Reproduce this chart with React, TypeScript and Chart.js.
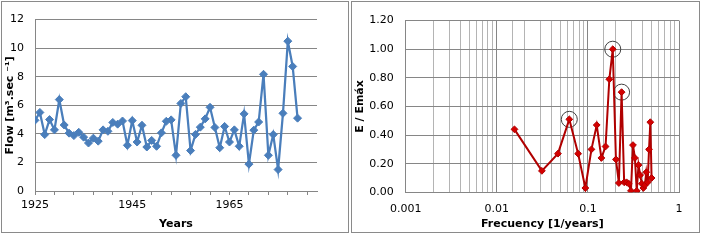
import React, { useEffect, useRef } from 'react';
import { Chart, registerables } from 'chart.js';

Chart.register(...registerables);

const years = [
  1925, 1926, 1927, 1928, 1929, 1930, 1931, 1932, 1933, 1934,
  1935, 1936, 1937, 1938, 1939, 1940, 1941, 1942, 1943, 1944,
  1945, 1946, 1947, 1948, 1949, 1950, 1951, 1952, 1953, 1954,
  1955, 1956, 1957, 1958, 1959, 1960, 1961, 1962, 1963, 1964,
  1965, 1966, 1967, 1968, 1969, 1970, 1971, 1972, 1973, 1974,
  1975, 1976, 1977, 1978, 1979,
];
const flow = [
  4.95, 5.5, 3.95, 5.0, 4.28, 6.4, 4.62, 4.05, 3.88, 4.11,
  3.77, 3.36, 3.7, 3.49, 4.28, 4.18, 4.8, 4.68, 4.9, 3.2,
  4.93, 3.43, 4.6, 3.08, 3.54, 3.13, 4.07, 4.88, 4.98, 2.5,
  6.13, 6.6, 2.83, 3.96, 4.47, 5.05, 5.86, 4.45, 3.03, 4.52,
  3.43, 4.28, 3.13, 5.4, 1.88, 4.26, 4.83, 8.17, 2.5, 3.95,
  1.5, 5.44, 10.49, 8.72, 5.1,
];
const yearTicks = [1925, 1929, 1933, 1937, 1941, 1945, 1949, 1953, 1957, 1961, 1965, 1969, 1973, 1977, 1981];
const yearLabels = [1925, 1945, 1965];

const freq = [
  0.015625, 0.03125, 0.046875, 0.0625, 0.078125, 0.09375, 0.109375, 0.125,
  0.140625, 0.15625, 0.171875, 0.1875, 0.203125, 0.21875, 0.234375, 0.25,
  0.265625, 0.28125, 0.296875, 0.3125, 0.328125, 0.34375, 0.359375, 0.375,
  0.390625, 0.40625, 0.421875, 0.4375, 0.453125, 0.46875, 0.484375, 0.5,
];
const energy = [
  0.44, 0.15, 0.27, 0.51, 0.27, 0.03, 0.30, 0.47,
  0.24, 0.32, 0.79, 1.0, 0.23, 0.065, 0.70, 0.07,
  0.07, 0.06, 0.01, 0.33, 0.24, 0.01, 0.19, 0.12,
  0.06, 0.03, 0.05, 0.14, 0.07, 0.30, 0.49, 0.10,
];
const peakIdx = [3, 11, 14];
const freqLabels = ['0.001', '0.01', '0.1', '1'];

const FONT = "'DejaVu Sans', Verdana, sans-serif";
const GRID = '#868686';
const MINOR = '#B4B4B4';

const tickFont = { size: 11, family: FONT };
const titleFont = { size: 11, family: FONT, weight: 'bold' as const };

function flowConfig(): any {
  return {
    type: 'line',
    data: {
      datasets: [
        {
          data: years.map((y, i) => ({ x: y, y: flow[i] })),
          borderColor: '#4A7EBB',
          backgroundColor: '#4A7EBB',
          borderWidth: 2.25,
          pointStyle: 'rectRot',
          pointRadius: 4,
          pointBorderWidth: 1,
          tension: 0,
        },
      ],
    },
    options: {
      responsive: false,
      animation: false,
      events: [],
      layout: { padding: { left: 0, top: 16, right: 31, bottom: 0 } },
      plugins: { legend: { display: false }, tooltip: { enabled: false } },
      scales: {
        x: {
          type: 'linear',
          min: 1925,
          max: 1983,
          afterBuildTicks: (s: any) => {
            s.ticks = yearTicks.map((v) => ({ value: v }));
          },
          afterFit: (s: any) => {
            s.height = 41;
          },
          ticks: {
            autoSkip: false,
            maxRotation: 0,
            padding: 4,
            color: '#000',
            font: tickFont,
            callback: (v: any) => (yearLabels.includes(Number(v)) ? String(v) : ''),
          },
          grid: { drawOnChartArea: false, drawTicks: true, tickLength: 4, color: GRID },
          border: { color: GRID, width: 1 },
          title: { display: true, text: 'Years', color: '#000', font: titleFont, padding: { top: 0, bottom: 1.4 } },
        },
        y: {
          min: 0,
          max: 12,
          afterFit: (s: any) => {
            s.width = 33;
          },
          ticks: { stepSize: 2, padding: 11, color: '#000', font: tickFont },
          grid: { color: GRID, drawTicks: false },
          border: { color: GRID, width: 1 },
          title: { display: true, text: 'Flow [m³.sec ⁻¹]', color: '#000', font: titleFont, padding: { top: 1.6, bottom: 0 } },
        },
      },
    },
  };
}

function isMajor(v: number) {
  const l = Math.log10(v);
  return Math.abs(l - Math.round(l)) < 1e-6;
}

function spectrumConfig(): any {
  return {
    type: 'line',
    data: {
      datasets: [
        {
          data: freq.map((f, i) => ({ x: f, y: energy[i] })),
          borderColor: '#B00000',
          backgroundColor: '#D40000',
          pointBorderColor: '#B00000',
          borderWidth: 2,
          pointStyle: 'rectRot',
          pointRadius: 3.4,
          pointBorderWidth: 1,
          tension: 0,
        },
        {
          data: peakIdx.map((i) => ({ x: freq[i], y: energy[i] })),
          showLine: false,
          pointStyle: 'circle',
          pointRadius: 8,
          pointBorderWidth: 1,
          pointBorderColor: '#404040',
          pointBackgroundColor: 'rgba(0,0,0,0)',
          borderColor: '#404040',
          backgroundColor: 'rgba(0,0,0,0)',
        },
      ],
    },
    options: {
      responsive: false,
      animation: false,
      events: [],
      layout: { padding: { left: 0, top: 16.3, right: 20, bottom: 0 } },
      plugins: { legend: { display: false }, tooltip: { enabled: false } },
      scales: {
        x: {
          type: 'logarithmic',
          min: 0.001,
          max: 1,
          afterFit: (s: any) => {
            s.height = 39.7;
          },
          ticks: {
            autoSkip: false,
            maxRotation: 0,
            padding: 10,
            color: '#000',
            font: tickFont,
            callback: (v: any) => {
              const n = Number(v);
              if (!isMajor(n)) return '';
              return freqLabels[Math.round(Math.log10(n)) + 3] ?? '';
            },
          },
          grid: {
            drawTicks: false,
            color: (ctx: any) => (ctx.tick && isMajor(ctx.tick.value) ? GRID : MINOR),
          },
          border: { color: GRID, width: 1 },
          title: { display: true, text: 'Frecuency [1/years]', color: '#000', font: titleFont, padding: { top: 0, bottom: 1.4 } },
        },
        y: {
          min: 0,
          max: 1.2,
          afterFit: (s: any) => {
            s.width = 53.7;
          },
          ticks: {
            stepSize: 0.2,
            padding: 12,
            color: '#000',
            font: tickFont,
            callback: (v: any) => Number(v).toFixed(2),
          },
          grid: { color: GRID, drawTicks: false },
          border: { color: GRID, width: 1 },
          title: { display: true, text: 'E / Emáx', color: '#000', font: titleFont, padding: { top: 1.4, bottom: 0 } },
        },
      },
    },
  };
}

function ChartBox({ left, width, makeConfig }: { left: number; width: number; makeConfig: () => any }) {
  const ref = useRef<HTMLCanvasElement | null>(null);
  useEffect(() => {
    if (!ref.current) return;
    const chart = new Chart(ref.current, makeConfig());
    return () => chart.destroy();
  }, []);
  return (
    <div
      style={{
        position: 'absolute',
        left,
        top: 1,
        width,
        height: 232,
        boxSizing: 'border-box',
        border: '1px solid #8a8a8a',
        background: '#fff',
      }}
    >
      <canvas ref={ref} width={width - 2} height={230} style={{ display: 'block', width: width - 2, height: 230 }} />
    </div>
  );
}

export default function App() {
  return (
    <div style={{ position: 'absolute', left: 0, top: 0, width: 709, height: 241, background: '#fff', overflow: 'hidden' }}>
      <ChartBox left={1} width={348} makeConfig={flowConfig} />
      <ChartBox left={351} width={349} makeConfig={spectrumConfig} />
    </div>
  );
}
